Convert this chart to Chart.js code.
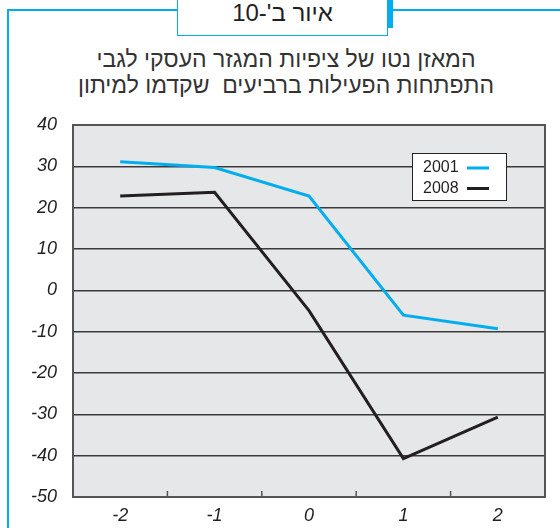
<!DOCTYPE html>
<html>
<head>
<meta charset="utf-8">
<title>איור ב'-10</title>
<script src="https://cdn.jsdelivr.net/npm/chart.js"></script>
<style>
    body { margin: 0; width: 560px; height: 528px; overflow: hidden; background: #fff; position: relative;
           font-family: "Liberation Sans", Arial, sans-serif; }
    #frameTop { position: absolute; left: 7px; top: 9px; width: 560px; height: 2px; background: #00aeef; }
    #frameLeft { position: absolute; left: 7px; top: 9px; width: 2px; height: 530px; background: #00aeef; }
    #titleBox { position: absolute; left: 177px; top: -1px; width: 211px; height: 37px; background: #fff;
                border: 1px solid #00aeef; box-sizing: border-box; text-align: center; direction: rtl;
                font-size: 24px; line-height: 26px; color: #231f20; }
    #titleBar { position: absolute; left: 388px; top: 0; width: 5px; height: 28px; background: #00aeef; }
    #subtitle { position: absolute; left: 40px; width: 492px; top: 46px; text-align: center; direction: rtl;
                font-size: 23px; line-height: 26px; color: #333; }
    #chartBox { position: absolute; left: 0; top: 0; width: 560px; height: 528px; }
</style>
</head>
<body>
    <div id="frameTop"></div>
    <div id="frameLeft"></div>
    <div id="titleBox">איור ב'-10</div>
    <div id="titleBar"></div>
    <div id="subtitle">המאזן נטו של ציפיות המגזר העסקי לגבי<br>התפתחות הפעילות ברביעים&nbsp; שקדמו למיתון</div>
    <div id="chartBox"><canvas id="chart" width="560" height="528"></canvas></div>

    <script>
        // נתונים
        var quarters = ["-2", "-1", "0", "1", "2"];
        var seriesNames = ["2001", "2008"];
        var values2001 = [31.1, 29.7, 22.8, -6.0, -9.3];
        var values2008 = [22.8, 23.7, -4.9, -40.7, -30.7];
        var yMin = -50, yMax = 40, yStep = 10;

        var blue = "#00aeef";
        var black = "#231f20";

        // רקע, מסגרת, סימני ציר ומקרא
        var framePlugin = {
            id: "frame",
            beforeDraw: function(chart) {
                var a = chart.chartArea, c = chart.ctx;
                c.save();
                c.fillStyle = "#e6e7e8";
                c.fillRect(a.left, a.top, a.right - a.left, a.bottom - a.top);
                c.restore();
            },
            afterDatasetsDraw: function(chart) {
                var a = chart.chartArea, c = chart.ctx, x = chart.scales.x;
                c.save();
                c.strokeStyle = "#555";
                c.lineWidth = 2;
                c.strokeRect(a.left, a.top, a.right - a.left, a.bottom - a.top);
                c.lineWidth = 1.5;
                for (var i = 0; i < quarters.length - 1; i++) {
                    var px = (x.getPixelForTick(i) + x.getPixelForTick(i + 1)) / 2;
                    c.beginPath();
                    c.moveTo(px, a.bottom);
                    c.lineTo(px, a.bottom - 6);
                    c.stroke();
                }
                // מקרא
                var lx = 412, ly = 153, lw = 94, lh = 47;
                c.fillStyle = "#fff";
                c.fillRect(lx, ly, lw, lh);
                c.strokeStyle = "#222";
                c.lineWidth = 1;
                c.strokeRect(lx + 0.5, ly + 0.5, lw, lh);
                c.font = "16px 'Liberation Sans', Arial, sans-serif";
                c.textBaseline = "middle";
                c.textAlign = "left";
                chart.data.datasets.forEach(function(ds, k) {
                    var ty = ly + 15 + k * 20.5;
                    c.fillStyle = "#231f20";
                    c.fillText(ds.label, lx + 11, ty);
                    c.strokeStyle = ds.borderColor;
                    c.lineWidth = 3;
                    c.beginPath();
                    c.moveTo(lx + 55, ty);
                    c.lineTo(lx + 77, ty);
                    c.stroke();
                });
                c.restore();
            }
        };

        var ctx = document.getElementById("chart").getContext("2d");
        var chart = new Chart(ctx, {
            type: "line",
            data: {
                labels: quarters,
                datasets: [
                    { label: seriesNames[0], data: values2001, borderColor: blue, borderWidth: 3, pointRadius: 0, tension: 0 },
                    { label: seriesNames[1], data: values2008, borderColor: black, borderWidth: 3, pointRadius: 0, tension: 0 }
                ]
            },
            options: {
                responsive: false,
                animation: false,
                layout: { padding: { left: 0, right: 15, top: 125, bottom: 0 } },
                plugins: { legend: { display: false }, tooltip: { enabled: false } },
                scales: {
                    x: {
                        offset: true,
                        grid: { display: false, offset: true, drawTicks: false },
                        border: { display: false },
                        ticks: { padding: 8, color: "#231f20", font: { size: 18, style: "italic", family: "'Liberation Sans', Arial, sans-serif" } },
                        afterFit: function(s) { s.height = 31; }
                    },
                    y: {
                        min: yMin,
                        max: yMax,
                        ticks: { stepSize: yStep, padding: 16, color: "#231f20", font: { size: 18, style: "italic", family: "'Liberation Sans', Arial, sans-serif" } },
                        grid: { color: "#3a3a3a", lineWidth: 1.5, drawTicks: false },
                        border: { display: false },
                        afterFit: function(s) { s.width = 73; }
                    }
                }
            },
            plugins: [framePlugin]
        });
    </script>
</body>
</html>
